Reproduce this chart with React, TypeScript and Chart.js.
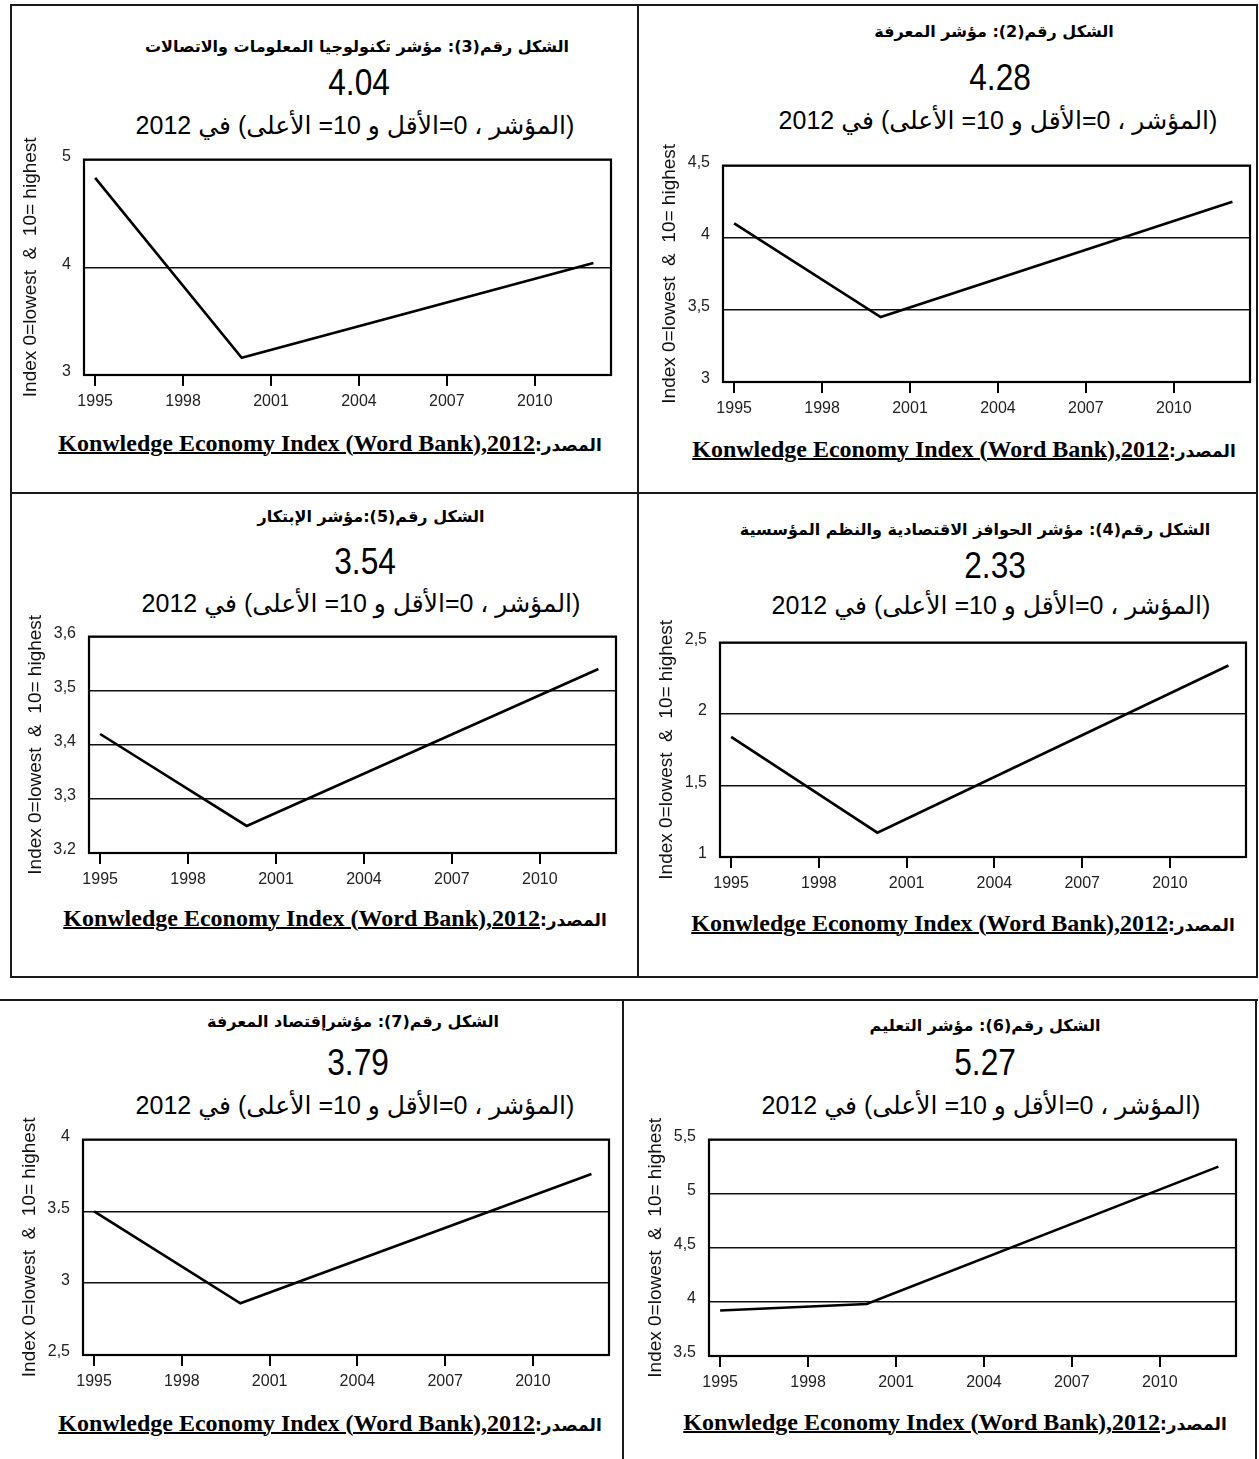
import React, { useEffect, useRef } from "react";
import { Chart, registerables } from "chart.js";

Chart.register(...registerables);

// ---------- data ----------
const years = [1995, 2000, 2012];
const xTickYears = [1995, 1998, 2001, 2004, 2007, 2010];

const ictValues = [4.83, 3.16, 4.04];
const knowledgeValues = [4.1, 3.45, 4.25];
const innovationValues = [3.42, 3.25, 3.54];
const incentiveValues = [1.84, 1.17, 2.34];
const keiValues = [3.5, 2.86, 3.76];
const educationValues = [3.92, 3.98, 5.25];

const ictTicks = [3, 4, 5];
const ictTickLabels = ["3", "4", "5"];
const knowledgeTicks = [3, 3.5, 4, 4.5];
const knowledgeTickLabels = ["3", "3,5", "4", "4,5"];
const innovationTicks = [3.2, 3.3, 3.4, 3.5, 3.6];
const innovationTickLabels = ["3،2", "3,3", "3,4", "3,5", "3,6"];
const incentiveTicks = [1, 1.5, 2, 2.5];
const incentiveTickLabels = ["1", "1,5", "2", "2,5"];
const keiTicks = [2.5, 3, 3.5, 4];
const keiTickLabels = ["2,5", "3", "3،5", "4"];
const educationTicks = [3.5, 4, 4.5, 5, 5.5];
const educationTickLabels = ["3،5", "4", "4,5", "5", "5,5"];

const figureTitles = [
  "الشكل رقم(3): مؤشر تكنولوجيا المعلومات والاتصالات",
  "الشكل رقم(2): مؤشر المعرفة",
  "الشكل رقم(5):مؤشر الإبتكار",
  "الشكل رقم(4): مؤشر الحوافز الاقتصادية والنظم المؤسسية",
  "الشكل رقم(7): مؤشرإقتصاد المعرفة",
  "الشكل رقم(6): مؤشر التعليم",
];
const headlineValues = ["4.04", "4.28", "3.54", "2.33", "3.79", "5.27"];
const subtitleText = "(المؤشر ، 0=الأقل و 10= الأعلى) في 2012";
const sourceLabel = "المصدر:";
const sourceText = "Konwledge Economy Index (Word Bank),2012";
const yAxisTitle = "Index 0=lowest  &  10= highest";

// ---------- layout ----------
const X_MIN = 1994.62;
const X_MAX = 2012.6;
const SANS = "'Liberation Sans', Arial, sans-serif";
const ARABIC = "'Liberation Sans', 'DejaVu Sans', sans-serif";

type Panel = {
  values: number[];
  ticks: number[];
  tickLabels: string[];
  plot: { l: number; t: number; r: number; b: number };
  titleY: number; titleX: number;
  numY: number; numX: number;
  subY: number; subX: number;
  srcY: number; srcX: number;
  idx: number;
};

const panels: Panel[] = [
  { idx: 0, values: ictValues, ticks: ictTicks, tickLabels: ictTickLabels,
    plot: { l: 84, t: 149, r: 611, b: 375 }, titleX: 357, titleY: 47, numX: 359, numY: 83, subX: 355, subY: 125, srcX: 330, srcY: 443 },
  { idx: 1, values: knowledgeValues, ticks: knowledgeTicks, tickLabels: knowledgeTickLabels,
    plot: { l: 723, t: 155, r: 1250, b: 382 }, titleX: 994, titleY: 32, numX: 1000, numY: 78, subX: 998, subY: 120, srcX: 964, srcY: 449 },
  { idx: 2, values: innovationValues, ticks: innovationTicks, tickLabels: innovationTickLabels,
    plot: { l: 89, t: 626, r: 616, b: 853 }, titleX: 371, titleY: 517, numX: 365, numY: 562, subX: 361, subY: 603, srcX: 335, srcY: 918 },
  { idx: 3, values: incentiveValues, ticks: incentiveTicks, tickLabels: incentiveTickLabels,
    plot: { l: 720, t: 632, r: 1246, b: 857 }, titleX: 975, titleY: 530, numX: 995, numY: 566, subX: 991, subY: 605, srcX: 963, srcY: 923 },
  { idx: 4, values: keiValues, ticks: keiTicks, tickLabels: keiTickLabels,
    plot: { l: 83, t: 1129, r: 609, b: 1355 }, titleX: 353, titleY: 1022, numX: 358, numY: 1063, subX: 355, subY: 1105, srcX: 330, srcY: 1423 },
  { idx: 5, values: educationValues, ticks: educationTicks, tickLabels: educationTickLabels,
    plot: { l: 709, t: 1129, r: 1236, b: 1356 }, titleX: 985, titleY: 1026, numX: 985, numY: 1063, subX: 981, subY: 1105, srcX: 955, srcY: 1422 },
];

const AXIS_W = 70;
const PAD_T = 12;
const PAD_R = 12;
const AXIS_H = 45;

const framePlugin = {
  id: "frameBox",
  beforeDatasetsDraw(chart: any) {
    const { ctx, chartArea } = chart;
    ctx.save();
    ctx.strokeStyle = "#000";
    ctx.lineWidth = 2.2;
    ctx.strokeRect(chartArea.left, chartArea.top, chartArea.right - chartArea.left, chartArea.bottom - chartArea.top);
    ctx.restore();
  },
};

function LineChart({ p }: { p: Panel }) {
  const ref = useRef<HTMLCanvasElement | null>(null);
  const w = p.plot.r - p.plot.l + AXIS_W + PAD_R;
  const h = p.plot.b - p.plot.t + PAD_T + AXIS_H;
  useEffect(() => {
    if (!ref.current) return;
    const chart = new Chart(ref.current, {
      type: "line",
      data: {
        datasets: [
          {
            data: years.map((yr, i) => ({ x: yr, y: p.values[i] })),
            borderColor: "#000",
            borderWidth: 2.6,
            pointRadius: 0,
            tension: 0,
            fill: false,
          },
        ],
      },
      options: {
        animation: false,
        responsive: false,
        maintainAspectRatio: false,
        layout: { padding: { left: 0, top: PAD_T, right: PAD_R, bottom: 0 } },
        plugins: { legend: { display: false }, tooltip: { enabled: false }, title: { display: false } },
        scales: {
          x: {
            type: "linear",
            min: X_MIN,
            max: X_MAX,
            afterBuildTicks: (s: any) => { s.ticks = xTickYears.map((v) => ({ value: v })); },
            afterFit: (s: any) => { s.height = AXIS_H; },
            grid: { drawOnChartArea: false, drawTicks: true, tickLength: 11, color: "#000", lineWidth: 2 },
            border: { display: false },
            ticks: {
              color: "#222",
              padding: 6,
              maxRotation: 0,
              autoSkip: false,
              font: { family: SANS, size: 16 },
              callback: (v: any) => String(v),
            },
          },
          y: {
            type: "linear",
            min: p.ticks[0],
            max: p.ticks[p.ticks.length - 1],
            afterBuildTicks: (s: any) => { s.ticks = p.ticks.map((v) => ({ value: v })); },
            afterFit: (s: any) => { s.width = AXIS_W; },
            grid: { drawOnChartArea: true, drawTicks: false, color: "#111", lineWidth: 1.5 },
            border: { display: false },
            ticks: {
              color: "#222",
              padding: 13,
              labelOffset: -3,
              autoSkip: false,
              font: { family: SANS, size: 16 },
              callback: (_v: any, i: number) => p.tickLabels[i],
            },
            title: {
              display: true,
              text: yAxisTitle,
              color: "#111",
              padding: { top: 5, bottom: 0 },
              font: { family: SANS, size: 19 },
            },
          },
        },
      },
      plugins: [framePlugin],
    } as any);
    return () => chart.destroy();
  }, []);
  return (
    <canvas
      ref={ref}
      width={w}
      height={h}
      style={{ position: "absolute", left: p.plot.l - AXIS_W, top: p.plot.t - PAD_T, width: w, height: h }}
    />
  );
}

function Centered({ x, y, size, children, style }: any) {
  return (
    <div
      dir="rtl"
      style={{
        position: "absolute",
        left: x - 320,
        width: 640,
        top: y - size * 0.6,
        height: size * 1.2,
        lineHeight: `${size * 1.2}px`,
        fontSize: size,
        textAlign: "center",
        whiteSpace: "nowrap",
        color: "#000",
        ...style,
      }}
    >
      {children}
    </div>
  );
}

function Line({ x, y, w, h }: any) {
  return <div style={{ position: "absolute", left: x, top: y, width: w, height: h, background: "#1a1a1a" }} />;
}

export default function App() {
  return (
    <div style={{ position: "absolute", left: 0, top: 0, width: 1259, height: 1459, background: "#fff", overflow: "hidden" }}>
      {/* top table borders */}
      <Line x={10} y={4} w={1248} h={2} />
      <Line x={10} y={4} w={2} h={974} />
      <Line x={1256} y={4} w={2} h={974} />
      <Line x={10} y={976} w={1248} h={2} />
      <Line x={637} y={4} w={2} h={974} />
      <Line x={10} y={492} w={1248} h={2} />
      {/* bottom table borders */}
      <Line x={0} y={999} w={1258} h={2} />
      <Line x={622} y={999} w={2} h={460} />
      <Line x={1255} y={999} w={2} h={460} />

      {panels.map((p) => (
        <React.Fragment key={p.idx}>
          <Centered x={p.titleX} y={p.titleY} size={16} style={{ fontFamily: "'DejaVu Sans', sans-serif", fontWeight: "bold" }}>
            {figureTitles[p.idx]}
          </Centered>
          <Centered x={p.numX} y={p.numY} size={36} style={{ fontFamily: SANS }}>
            <span style={{ display: "inline-block", transform: "scaleX(0.88)" }}>{headlineValues[p.idx]}</span>
          </Centered>
          <Centered x={p.subX} y={p.subY} size={25} style={{ fontFamily: ARABIC }}>
            {subtitleText}
          </Centered>
          <Centered x={p.srcX} y={p.srcY} size={24} style={{ fontWeight: "bold" }}>
            <span style={{ fontFamily: "'DejaVu Sans', sans-serif", fontSize: 17 }}>{sourceLabel}</span>
            <span
              dir="ltr"
              style={{ unicodeBidi: "isolate", fontFamily: "'Liberation Serif', 'Times New Roman', serif", textDecoration: "underline", textDecorationThickness: 2 }}
            >
              {sourceText}
            </span>
          </Centered>
          <LineChart p={p} />
        </React.Fragment>
      ))}
    </div>
  );
}
